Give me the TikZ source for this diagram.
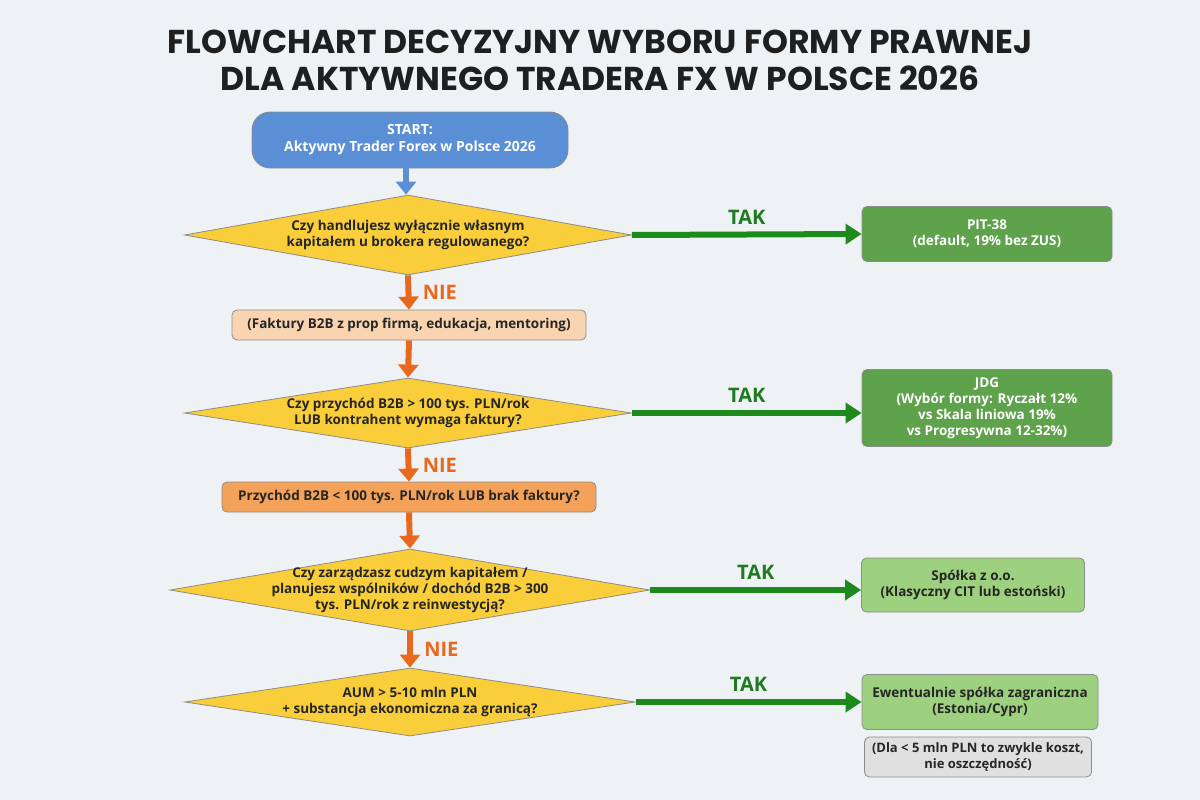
\documentclass[tikz,border=0pt]{standalone}
\usepackage{fontspec}
\setmainfont{Open Sans}
\newfontfamily\titlefont{Poppins}[BoldFont={* Bold}]
\usetikzlibrary{shapes.geometric,arrows.meta}
\definecolor{bgc}{HTML}{EEF2F5}
\definecolor{startc}{HTML}{5A8ED5}
\definecolor{dia}{HTML}{F9CE3A}
\definecolor{dgreen}{HTML}{5EA24B}
\definecolor{lgreen}{HTML}{9DD07F}
\definecolor{peach}{HTML}{F9D4B0}
\definecolor{orng}{HTML}{F4A25A}
\definecolor{arrg}{HTML}{1E8A1E}
\definecolor{arro}{HTML}{E8681E}
\definecolor{txtg}{HTML}{1E7A1E}
\tikzset{
 base/.style={draw=black!45,line width=0.8pt,align=center,font=\fontsize{13.5}{16}\selectfont\bfseries,inner sep=2pt},
 dec/.style={base,shape=diamond,fill=dia,text=black!85,inner sep=0pt},
 res/.style={base,rounded corners=5pt,fill=dgreen,text=white},
 box/.style={base,rounded corners=5pt,text=black!85},
 tak/.style={line width=6pt,draw=arrg,-{Triangle[width=20pt,length=16pt]}},
 nie/.style={line width=6pt,draw=arro,-{Triangle[width=20pt,length=13pt]}},
 lab/.style={font=\fontsize{20}{22}\selectfont\bfseries},
}
\begin{document}
\begin{tikzpicture}[x=1pt,y=-1pt]
\fill[bgc] (0,0) rectangle (1200,800);
\useasboundingbox (0,0) rectangle (1200,800);
\node[font=\titlefont\fontsize{33}{37}\selectfont\bfseries,text=black!88,align=center] (title) at (600,60) {FLOWCHART DECYZYJNY WYBORU FORMY PRAWNEJ\\DLA AKTYWNEGO TRADERA FX W POLSCE 2026};
\node[box,fill=startc,text=white,rounded corners=18pt,minimum width=316pt,minimum height=56pt,font=\fontsize{14}{17}\selectfont\bfseries] (start) at (410,140) {START:\\Aktywny Trader Forex w Polsce 2026};
\node[dec,aspect=5.59,minimum width=447pt,minimum height=80pt] (d1) at (408,235) {Czy handlujesz wyłącznie własnym\\kapitałem u brokera regulowanego?};
\node[res,minimum width=250pt,minimum height=55pt] (r1) at (987,234) {PIT-38\\(default, 19\% bez ZUS)};
\node[box,fill=peach,minimum width=354pt,minimum height=30pt] (b1) at (409,325) {(Faktury B2B z prop firmą, edukacja, mentoring)};
\node[dec,aspect=6.39,minimum width=447pt,minimum height=70pt] (d2) at (408,413) {Czy przychód B2B > 100 tys. PLN/rok\\LUB kontrahent wymaga faktury?};
\node[res,minimum width=250pt,minimum height=77pt] (r2) at (987,408) {JDG\\(Wybór formy: Ryczałt 12\%\\vs Skala liniowa 19\%\\vs Progresywna 12-32\%)};
\node[box,fill=orng,minimum width=374pt,minimum height=30pt] (b2) at (409,497) {Przychód B2B < 100 tys. PLN/rok LUB brak faktury?};
\node[dec,aspect=5.85,inner sep=-13pt,minimum width=480pt,minimum height=82pt] (d3) at (410,590) {Czy zarządzasz cudzym kapitałem /\\planujesz wspólników / dochód B2B > 300\\tys. PLN/rok z reinwestycją?};
\node[res,fill=lgreen,text=black!85,minimum width=223pt,minimum height=54pt] (r3) at (973,585) {Spółka z o.o.\\(Klasyczny CIT lub estoński)};
\node[dec,aspect=6.62,minimum width=450pt,minimum height=68pt] (d4) at (410,702) {AUM > 5-10 mln PLN\\+ substancja ekonomiczna za granicą?};
\node[res,fill=lgreen,text=black!85,minimum width=236pt,minimum height=55pt] (r4) at (980,702) {Ewentualnie spółka zagraniczna\\(Estonia/Cypr)};
\node[box,fill=black!12,minimum width=227pt,minimum height=40pt,font=\fontsize{13}{15.5}\selectfont\bfseries] (note) at (978,757) {(Dla < 5 mln PLN to zwykle koszt,\\nie oszczędność)};
\draw[line width=6pt,draw=startc,-{Triangle[width=20pt,length=13pt]}] (start.south -| 406,0) -- (d1.north -| 406,0);
\draw[tak] (d1.east) -- (r1.west) node[lab,text=txtg,midway,above=4pt] {TAK};
\draw[tak] (d2.east) -- (r2.west |- d2.east) node[lab,text=txtg,midway,above=4pt] {TAK};
\draw[tak] (d3.east) -- (r3.west |- d3.east) node[lab,text=txtg,midway,above=4pt] {TAK};
\draw[tak] (d4.east) -- (r4.west) node[lab,text=txtg,midway,above=4pt] {TAK};
\draw[nie] (d1.south) -- (b1.north) node[lab,text=arro,midway,right=8pt] {NIE};
\draw[nie] (b1.south) -- (d2.north);
\draw[nie] (d2.south) -- (b2.north) node[lab,text=arro,midway,right=8pt] {NIE};
\draw[nie] (b2.south) -- (d3.north);
\draw[nie] (d3.south) -- (d4.north) node[lab,text=arro,midway,right=8pt] {NIE};
\end{tikzpicture}
\end{document}
